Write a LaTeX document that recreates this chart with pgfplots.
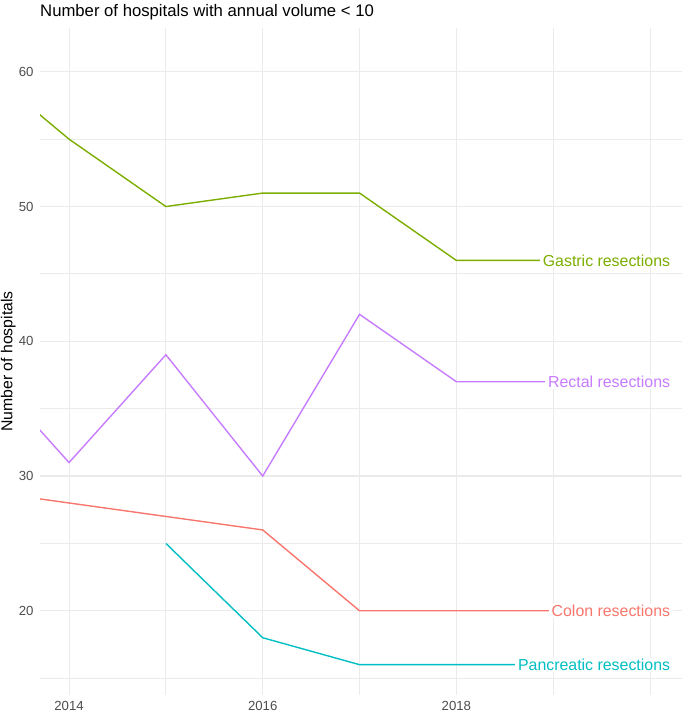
\documentclass[border=0pt]{standalone}
\usepackage{fontspec}
\setmainfont{Liberation Sans}
\usepackage{pgfplots}
\pgfplotsset{compat=1.18}
\definecolor{colon}{HTML}{F8766D}
\definecolor{gastric}{HTML}{7CAE00}
\definecolor{pancreatic}{HTML}{00BFC4}
\definecolor{rectal}{HTML}{C77CFF}
\definecolor{gridc}{HTML}{EBEBEB}
\definecolor{tickc}{HTML}{4D4D4D}
\tikzset{serieslabel/.style={anchor=base east, fill=white, inner xsep=3pt, inner ysep=1pt, yshift=-5.7pt, font=\fontsize{15.9}{18}\selectfont}}
\begin{document}
\begin{tikzpicture}[x=1pt,y=1pt]
\useasboundingbox (0,0) rectangle (685,713);
\node[anchor=base west,inner sep=0pt,font=\fontsize{16.7}{18}\selectfont] at (40,696.3) {Number of hospitals with annual volume < 10};
\node[rotate=90,anchor=base,inner sep=0pt,font=\fontsize{15.8}{18}\selectfont] at (12.5,351.5) {Number of hospitals};
\begin{axis}[
  at={(40pt,18pt)}, anchor=south west,
  scale only axis, width=642pt, height=667pt,
  xmin=2013.7, xmax=2020.33, ymin=13.75, ymax=63.25,
  axis line style={draw=none},
  major tick length=0pt, minor tick length=0pt,
  tick style={draw=none},
  xtick={2014,2016,2018}, minor xtick={2015,2017,2019,2020},
  ytick={20,30,40,50,60}, minor ytick={15,25,35,45,55},
  grid=both,
  major grid style={color=gridc, line width=1.1pt},
  minor grid style={color=gridc, line width=0.9pt},
  /pgf/number format/assume math mode=true,
  xticklabel style={/pgf/number format/1000 sep={}, font=\fontsize{13.2}{14}\selectfont, text=tickc, anchor=north, yshift=-3pt},
  yticklabel style={font=\fontsize{13.2}{14}\selectfont, text=tickc, anchor=east, xshift=-3pt},
  clip=true,
  every axis plot/.append style={line width=1.4pt, no markers},
]
\addplot[gastric] coordinates {(2013,61) (2014,55) (2015,50) (2016,51) (2017,51) (2018,46) (2019,46)};
\addplot[rectal] coordinates {(2013,39) (2014,31) (2015,39) (2016,30) (2017,42) (2018,37) (2019,37)};
\addplot[colon] coordinates {(2013,29) (2014,28) (2015,27) (2016,26) (2017,20) (2018,20) (2019,20)};
\addplot[pancreatic] coordinates {(2015,25) (2016,18) (2017,16) (2018,16) (2019,16)};
\node[serieslabel, text=gastric] at (axis cs:2020.24,46) {Gastric resections};
\node[serieslabel, text=rectal] at (axis cs:2020.24,37) {Rectal resections};
\node[serieslabel, text=colon] at (axis cs:2020.24,20) {Colon resections};
\node[serieslabel, text=pancreatic] at (axis cs:2020.24,16) {Pancreatic resections};
\end{axis}
\end{tikzpicture}
\end{document}
